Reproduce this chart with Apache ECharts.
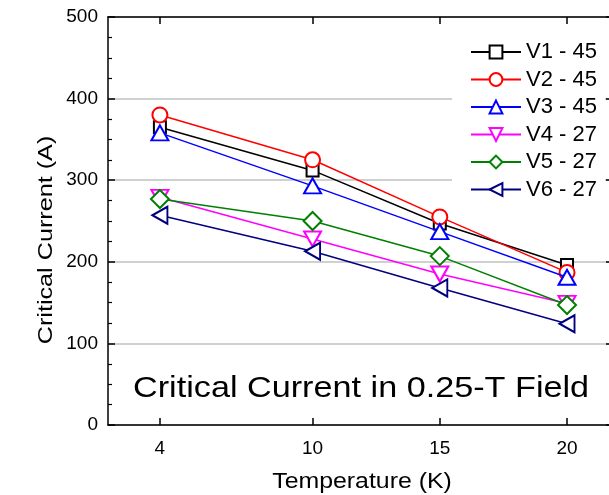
<!DOCTYPE html>
<html><head><meta charset="utf-8">
<script src="https://cdn.jsdelivr.net/npm/echarts@6/dist/echarts.min.js"></script>
<style>html,body{margin:0;padding:0;background:#fff}#c{width:609px;height:495px}</style>
</head><body><div id="c"></div>
<script>
const temps = [4, 10, 15, 20];
const xTicks = [4, 10, 15, 20];
const seriesNames = ['V1 - 45', 'V2 - 45', 'V3 - 45', 'V4 - 27', 'V5 - 27', 'V6 - 27'];
const v1 = [365, 312, 247, 196];
const v2 = [380, 325, 255, 187];
const v3 = [358, 293, 237, 181];
const v4 = [279, 228, 185, 149];
const v5 = [277, 250, 207, 147];
const v6 = [257, 213, 168, 124];
const values = [v1, v2, v3, v4, v5, v6];
const colors = ['#000000', '#ff0000', '#0000ff', '#ff00ff', '#008000', '#000080'];
const symbols = ['rect', 'circle', 'triangle', 'path://M0,0 L10,0 L5,9 Z', 'diamond', 'path://M0,5 L9,0 L9,10 Z'];
const sizes = [12, 15, [17, 15], [17, 15], 18, [15, 17]];

const chart = echarts.init(document.getElementById('c'));
const font = 'Arial, "Liberation Sans", sans-serif';
chart.setOption({
  animation: false,
  grid: { left: 108, top: 17, bottom: 70, right: 0 },
  legend: {
    orient: 'vertical', left: 452, top: 37, itemWidth: 50, itemHeight: 16, itemGap: 5.5,
    backgroundColor: '#fff', padding: [4, 8, 4, 18],
    textStyle: { fontFamily: font, fontSize: 22, color: '#000' },
    data: seriesNames
  },
  xAxis: [{
    type: 'value', min: 1.96, max: 21.65, position: 'bottom',
    axisLine: { onZero: false, lineStyle: { color: '#000', width: 1.5 } },
    axisTick: { inside: true, length: 7, customValues: xTicks, lineStyle: { color: '#000', width: 1.5 } },
    axisLabel: { customValues: xTicks, margin: 14, fontFamily: font, fontSize: 19, color: '#000' },
    splitLine: { show: false }
  }, {
    type: 'value', min: 1.96, max: 21.65, position: 'top',
    axisLine: { onZero: false, lineStyle: { color: '#000', width: 1.5 } },
    axisTick: { inside: true, length: 7, customValues: xTicks, lineStyle: { color: '#000', width: 1.5 } },
    axisLabel: { show: false }, splitLine: { show: false }
  }],
  yAxis: [{
    type: 'value', min: 0, max: 500, interval: 100, position: 'left',
    axisLine: { show: true, onZero: false, lineStyle: { color: '#000', width: 1.5 } },
    axisTick: { show: true, inside: true, length: 7, lineStyle: { color: '#000', width: 1.5 } },
    minorTick: { show: true, splitNumber: 4, length: 4, lineStyle: { color: '#000', width: 1.2 } },
    axisLabel: { margin: 10, fontFamily: font, fontSize: 19, color: '#000' },
    splitLine: { show: true, lineStyle: { color: '#c0c0c0', width: 1.5 } }
  }, {
    type: 'value', min: 0, max: 500, interval: 100, position: 'right',
    axisLine: { show: false },
    axisTick: { show: true, inside: true, length: 3, lineStyle: { color: '#000', width: 1.5 } },
    axisLabel: { show: false }, splitLine: { show: false }
  }],
  graphic: [{
    type: 'text', x: 133, y: 389,
    scaleX: 1.14,
    style: { text: 'Critical Current in 0.25-T Field', fontFamily: font, fontSize: 30, fill: '#000', textAlign: 'left', textVerticalAlign: 'middle' }
  }, {
    type: 'text', x: 362, y: 482,
    scaleX: 1.13,
    style: { text: 'Temperature (K)', fontFamily: font, fontSize: 22, fill: '#000', textAlign: 'center', textVerticalAlign: 'middle' }
  }, {
    type: 'text', x: 46, y: 240, rotation: Math.PI / 2,
    scaleX: 1.2,
    style: { text: 'Critical Current (A)', fontFamily: font, fontSize: 21, fill: '#000', textAlign: 'center', textVerticalAlign: 'middle' }
  }],
  series: seriesNames.map((n, i) => ({
    name: n, type: 'line',
    data: temps.map((t, j) => [t, values[i][j]]),
    symbol: symbols[i], symbolSize: sizes[i],
    itemStyle: { color: '#fff', borderColor: colors[i], borderWidth: 2 },
    lineStyle: { color: colors[i], width: 1.5 },
    z: 2 + i
  }))
});
</script></body></html>
